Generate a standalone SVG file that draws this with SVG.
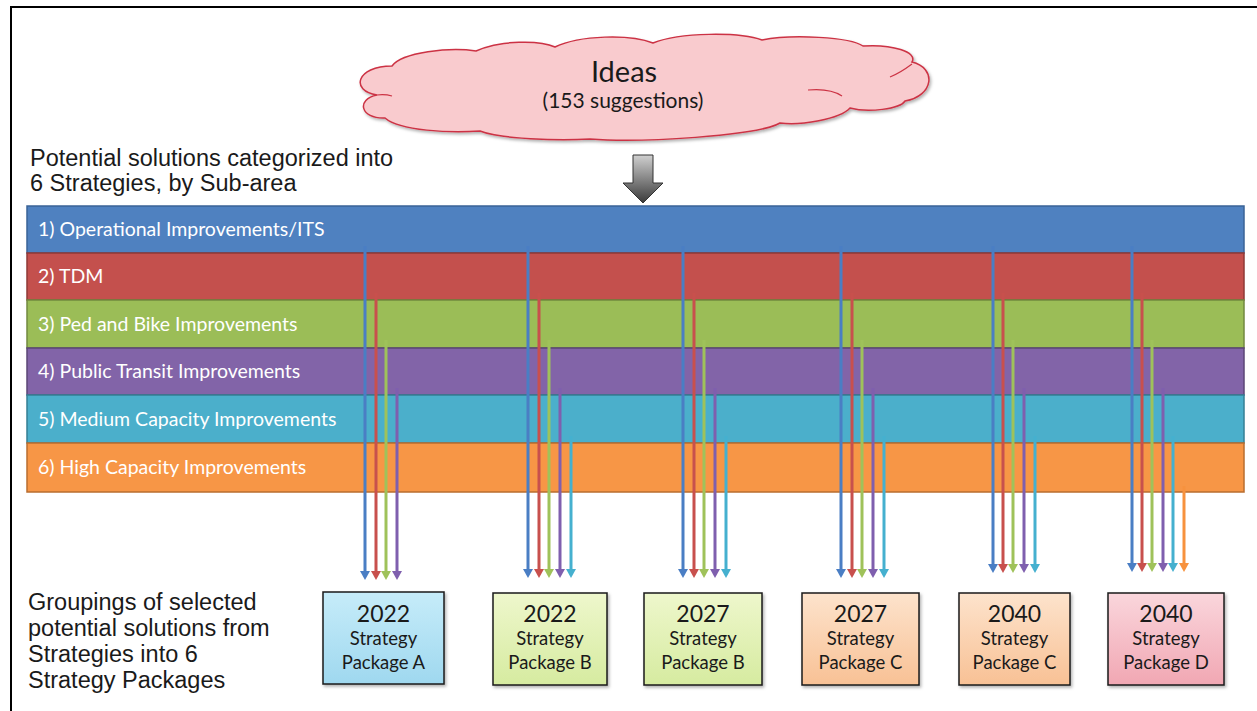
<svg xmlns="http://www.w3.org/2000/svg" width="1257" height="711" viewBox="0 0 1257 711">
<style>
.lbl{font-family:"Liberation Sans",Arial,sans-serif;font-size:23.5px;fill:#1a1a1a}
.band-t{font-family:Lato,"Open Sans",sans-serif;font-size:19.5px;fill:#ffffff}
.box{stroke:#1a1a1a;stroke-width:1.5}
.bt{font-family:Lato,"Open Sans",sans-serif;fill:#1a1a1a;text-anchor:middle}
.yr{font-size:23px}
.sp{font-size:18.5px}
</style>
<defs>
<linearGradient id="gA" x1="0" y1="0" x2="0" y2="1"><stop offset="0" stop-color="#c6ecf9"/><stop offset="1" stop-color="#9fd8ef"/></linearGradient>
<linearGradient id="gB" x1="0" y1="0" x2="0" y2="1"><stop offset="0" stop-color="#eef7cc"/><stop offset="1" stop-color="#d6eba0"/></linearGradient>
<linearGradient id="gC" x1="0" y1="0" x2="0" y2="1"><stop offset="0" stop-color="#fde3cc"/><stop offset="1" stop-color="#f8c195"/></linearGradient>
<linearGradient id="gD" x1="0" y1="0" x2="0" y2="1"><stop offset="0" stop-color="#fad6dc"/><stop offset="1" stop-color="#f1a7b3"/></linearGradient>
<linearGradient id="gArrow" x1="0" y1="0" x2="0" y2="1"><stop offset="0" stop-color="#d0d0d0"/><stop offset="1" stop-color="#3a3a3a"/></linearGradient>
<filter id="sh" x="-10%" y="-10%" width="130%" height="130%"><feDropShadow dx="1.5" dy="2" stdDeviation="1.5" flood-color="#000" flood-opacity="0.3"/></filter>
</defs>

<!-- frame -->
<path d="M11,711 V7 H1257" fill="none" stroke="#000" stroke-width="2"/>

<!-- cloud -->
<g id="ideas">
<path d="M385,118 C360,119 356,99 377,95 C350,91 356,66 392,66 C402,52 450,47 476,51 C500,40 540,40 555,47 C580,35 630,34 653,43 C680,32 740,32 762,40 C792,34 850,37 863,46 C892,44 918,52 912,62 C937,68 934,96 905,101 C900,109 868,113 850,108 C840,119 800,126 780,123 C758,136 640,143 590,139 C558,141 500,139 480,131 C450,133 400,131 385,118 Z" fill="#f9cbce" stroke="#cc3344" stroke-width="1.5" filter="url(#sh)"/>
<path d="M890,77 Q900,73 912,64" fill="none" stroke="#cc3344" stroke-width="1.2"/>
<path d="M377,95 Q385,94 392,96" fill="none" stroke="#cc3344" stroke-width="1.2"/>
<path d="M808,90 Q830,88 842,96" fill="none" stroke="#cc3344" stroke-width="1.2"/>
<text x="624" y="82" class="bt" style="font-size:29px">Ideas</text>
<text x="623" y="108" class="bt" style="font-size:21px">(153 suggestions)</text>
</g>

<!-- down arrow -->
<g id="bigArrow">
<path d="M633,155 H653 V183 H663 L643,203 L623,183 H633 Z" fill="url(#gArrow)" stroke="#333" stroke-width="1"/>
</g>

<!-- left labels -->
<g id="label-top">
<text x="30" y="166" class="lbl">Potential solutions categorized into</text>
<text x="30" y="191" class="lbl">6 Strategies, by Sub-area</text>
</g>
<g id="label-bottom">
<text x="28" y="610" class="lbl">Groupings of selected</text>
<text x="28" y="636" class="lbl">potential solutions from</text>
<text x="28" y="662" class="lbl">Strategies into 6</text>
<text x="28" y="688" class="lbl">Strategy Packages</text>
</g>

<!-- bands -->
<g id="band1"><rect x="27" y="206" width="1217" height="47" fill="#4f81c0" stroke="#3a6396" stroke-width="1.5"/><text x="38" y="236" class="band-t">1) Operational Improvements/ITS</text></g>
<g id="band2"><rect x="27" y="253" width="1217" height="47" fill="#c4504d" stroke="#8f3836" stroke-width="1.5"/><text x="38" y="283" class="band-t">2) TDM</text></g>
<g id="band3"><rect x="27" y="300" width="1217" height="48" fill="#9bbd57" stroke="#71893f" stroke-width="1.5"/><text x="38" y="331" class="band-t">3) Ped and Bike Improvements</text></g>
<g id="band4"><rect x="27" y="348" width="1217" height="47" fill="#8264a8" stroke="#5b4676" stroke-width="1.5"/><text x="38" y="378" class="band-t">4) Public Transit Improvements</text></g>
<g id="band5"><rect x="27" y="395" width="1217" height="48" fill="#4bafcb" stroke="#357f94" stroke-width="1.5"/><text x="38" y="426" class="band-t">5) Medium Capacity Improvements</text></g>
<g id="band6"><rect x="27" y="443" width="1217" height="49" fill="#f79646" stroke="#b96d2f" stroke-width="1.5"/><text x="38" y="474" class="band-t">6) High Capacity Improvements</text></g>

<!-- connectors -->
<g id="connectors" stroke-width="3">
<g>
<line x1="365" y1="246" x2="365" y2="572" stroke="#4a7ec4"/><path d="M360,571 L370,571 L365,580 Z" fill="#4a7ec4"/>
<line x1="376" y1="293" x2="376" y2="572" stroke="#c8504d"/><path d="M371,571 L381,571 L376,580 Z" fill="#c8504d"/>
<line x1="386" y1="340" x2="386" y2="572" stroke="#9fc25a"/><path d="M381,571 L391,571 L386,580 Z" fill="#9fc25a"/>
<line x1="397" y1="388" x2="397" y2="572" stroke="#7f5fae"/><path d="M392,571 L402,571 L397,580 Z" fill="#7f5fae"/>
</g>
<g>
<line x1="528" y1="246" x2="528" y2="570" stroke="#4a7ec4"/><path d="M523,569 L533,569 L528,578 Z" fill="#4a7ec4"/>
<line x1="539" y1="293" x2="539" y2="570" stroke="#c8504d"/><path d="M534,569 L544,569 L539,578 Z" fill="#c8504d"/>
<line x1="549" y1="340" x2="549" y2="570" stroke="#9fc25a"/><path d="M544,569 L554,569 L549,578 Z" fill="#9fc25a"/>
<line x1="560" y1="388" x2="560" y2="570" stroke="#7f5fae"/><path d="M555,569 L565,569 L560,578 Z" fill="#7f5fae"/>
<line x1="571" y1="436" x2="571" y2="570" stroke="#45b0cf"/><path d="M566,569 L576,569 L571,578 Z" fill="#45b0cf"/>
</g>
<g>
<line x1="683" y1="246" x2="683" y2="570" stroke="#4a7ec4"/><path d="M678,569 L688,569 L683,578 Z" fill="#4a7ec4"/>
<line x1="694" y1="293" x2="694" y2="570" stroke="#c8504d"/><path d="M689,569 L699,569 L694,578 Z" fill="#c8504d"/>
<line x1="704" y1="340" x2="704" y2="570" stroke="#9fc25a"/><path d="M699,569 L709,569 L704,578 Z" fill="#9fc25a"/>
<line x1="715" y1="388" x2="715" y2="570" stroke="#7f5fae"/><path d="M710,569 L720,569 L715,578 Z" fill="#7f5fae"/>
<line x1="726" y1="436" x2="726" y2="570" stroke="#45b0cf"/><path d="M721,569 L731,569 L726,578 Z" fill="#45b0cf"/>
</g>
<g>
<line x1="841" y1="246" x2="841" y2="570" stroke="#4a7ec4"/><path d="M836,569 L846,569 L841,578 Z" fill="#4a7ec4"/>
<line x1="852" y1="293" x2="852" y2="570" stroke="#c8504d"/><path d="M847,569 L857,569 L852,578 Z" fill="#c8504d"/>
<line x1="862" y1="340" x2="862" y2="570" stroke="#9fc25a"/><path d="M857,569 L867,569 L862,578 Z" fill="#9fc25a"/>
<line x1="873" y1="388" x2="873" y2="570" stroke="#7f5fae"/><path d="M868,569 L878,569 L873,578 Z" fill="#7f5fae"/>
<line x1="884" y1="436" x2="884" y2="570" stroke="#45b0cf"/><path d="M879,569 L889,569 L884,578 Z" fill="#45b0cf"/>
</g>
<g>
<line x1="993" y1="246" x2="993" y2="565" stroke="#4a7ec4"/><path d="M988,564 L998,564 L993,573 Z" fill="#4a7ec4"/>
<line x1="1003" y1="293" x2="1003" y2="565" stroke="#c8504d"/><path d="M998,564 L1008,564 L1003,573 Z" fill="#c8504d"/>
<line x1="1013" y1="340" x2="1013" y2="565" stroke="#9fc25a"/><path d="M1008,564 L1018,564 L1013,573 Z" fill="#9fc25a"/>
<line x1="1024" y1="388" x2="1024" y2="565" stroke="#7f5fae"/><path d="M1019,564 L1029,564 L1024,573 Z" fill="#7f5fae"/>
<line x1="1035" y1="436" x2="1035" y2="565" stroke="#45b0cf"/><path d="M1030,564 L1040,564 L1035,573 Z" fill="#45b0cf"/>
</g>
<g>
<line x1="1132" y1="246" x2="1132" y2="564" stroke="#4a7ec4"/><path d="M1127,563 L1137,563 L1132,572 Z" fill="#4a7ec4"/>
<line x1="1142" y1="293" x2="1142" y2="564" stroke="#c8504d"/><path d="M1137,563 L1147,563 L1142,572 Z" fill="#c8504d"/>
<line x1="1152" y1="340" x2="1152" y2="564" stroke="#9fc25a"/><path d="M1147,563 L1157,563 L1152,572 Z" fill="#9fc25a"/>
<line x1="1163" y1="388" x2="1163" y2="564" stroke="#7f5fae"/><path d="M1158,563 L1168,563 L1163,572 Z" fill="#7f5fae"/>
<line x1="1173" y1="436" x2="1173" y2="564" stroke="#45b0cf"/><path d="M1168,563 L1178,563 L1173,572 Z" fill="#45b0cf"/>
<line x1="1184" y1="486" x2="1184" y2="564" stroke="#f7923e"/><path d="M1179,563 L1189,563 L1184,572 Z" fill="#f7923e"/>
</g>
</g>

<!-- packages -->
<g id="pkgA"><rect x="323" y="592" width="121" height="92" fill="url(#gA)" class="box" filter="url(#sh)"/>
<text x="383.5" y="622" class="bt yr">2022</text><text x="383.5" y="645" class="bt sp">Strategy</text><text x="383.5" y="669" class="bt sp">Package A</text></g>
<g id="pkgB1"><rect x="493" y="593" width="114" height="92" fill="url(#gB)" class="box" filter="url(#sh)"/>
<text x="550" y="622" class="bt yr">2022</text><text x="550" y="645" class="bt sp">Strategy</text><text x="550" y="669" class="bt sp">Package B</text></g>
<g id="pkgB2"><rect x="644" y="593" width="118" height="92" fill="url(#gB)" class="box" filter="url(#sh)"/>
<text x="703" y="622" class="bt yr">2027</text><text x="703" y="645" class="bt sp">Strategy</text><text x="703" y="669" class="bt sp">Package B</text></g>
<g id="pkgC1"><rect x="802" y="593" width="117" height="92" fill="url(#gC)" class="box" filter="url(#sh)"/>
<text x="860.5" y="622" class="bt yr">2027</text><text x="860.5" y="645" class="bt sp">Strategy</text><text x="860.5" y="669" class="bt sp">Package C</text></g>
<g id="pkgC2"><rect x="959" y="593" width="111" height="92" fill="url(#gC)" class="box" filter="url(#sh)"/>
<text x="1014.5" y="622" class="bt yr">2040</text><text x="1014.5" y="645" class="bt sp">Strategy</text><text x="1014.5" y="669" class="bt sp">Package C</text></g>
<g id="pkgD"><rect x="1108" y="593" width="116" height="92" fill="url(#gD)" class="box" filter="url(#sh)"/>
<text x="1166" y="622" class="bt yr">2040</text><text x="1166" y="645" class="bt sp">Strategy</text><text x="1166" y="669" class="bt sp">Package D</text></g>
</svg>
